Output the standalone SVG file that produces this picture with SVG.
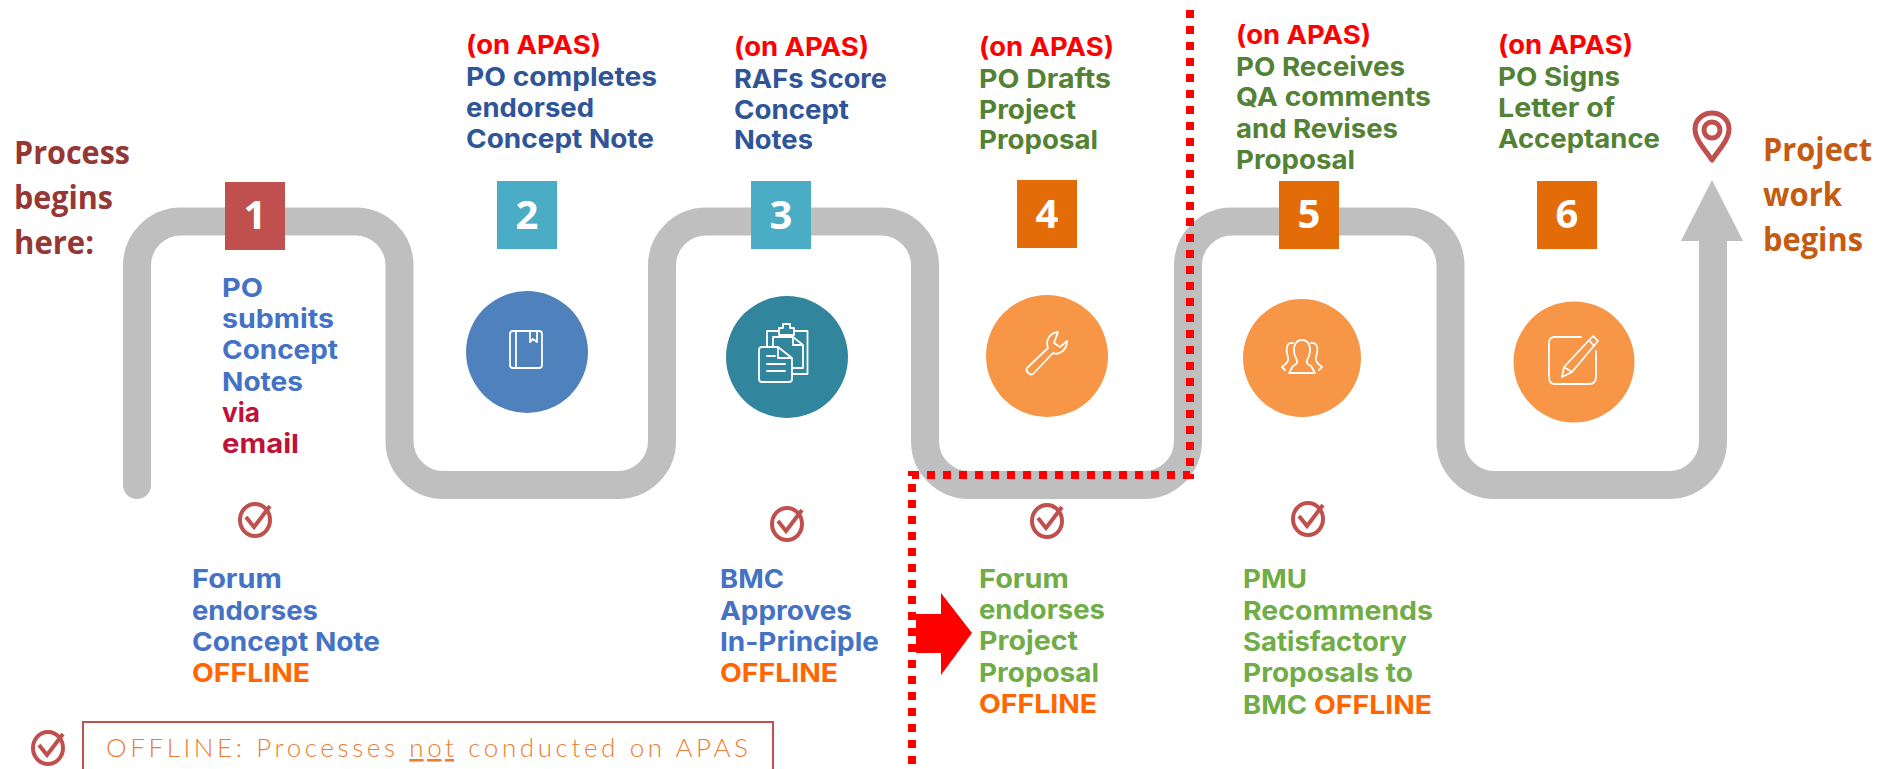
<svg xmlns="http://www.w3.org/2000/svg" width="1881" height="769" viewBox="0 0 1881 769">
<style>
text{font-family:Inter,"Liberation Sans",sans-serif;font-weight:700;font-size:26px}
.cal{font-family:"Open Sans","Liberation Sans",sans-serif;font-size:33px}
.num{font-family:"Open Sans","Liberation Sans",sans-serif;font-size:40px;fill:#fff;text-anchor:middle}
.red{fill:#f00}.navy{fill:#2f5597}.blue{fill:#4472c4}.dk{fill:#548235}.lt{fill:#70ad47}.off{fill:#f60}.via{fill:#be1238}
.ic{fill:none;stroke:#fff;stroke-width:1.8;stroke-linejoin:round;stroke-linecap:round}
.ck{fill:none;stroke:#c0504d;stroke-width:4}
.dot{fill:none;stroke:#f00;stroke-width:8;stroke-dasharray:8 8}
</style>
<defs>
<g id="check"><ellipse cx="0" cy="0" rx="15" ry="16" class="ck"/><path d="M-9-3L-1 7L15-14" class="ck"/></g>
</defs>
<rect width="1881" height="769" fill="#fff"/>
<g id="connectors">
<path id="track" d="M137 485V265.5A44 44 0 0 1 181 221.5H355.500A44 44 0 0 1 399.500 265.500V441A44 44 0 0 0 443.500 485H618A44 44 0 0 0 662 441V265.500A44 44 0 0 1 706 221.500H881A44 44 0 0 1 925 265.500V441A44 44 0 0 0 969 485H1144A44 44 0 0 0 1188 441V265.500A44 44 0 0 1 1232 221.500H1406.500A44 44 0 0 1 1450.500 265.500V441A44 44 0 0 0 1494.500 485H1669A44 44 0 0 0 1713 441V235" fill="none" stroke="#bfbfbf" stroke-width="28" stroke-linecap="round"/>
<polygon points="1712,180 1743,241 1681,241" fill="#bfbfbf"/>
<path class="dot" d="M1190 10V475H912V766"/>
<polygon id="red-arrow" points="916,614 941,614 941,593 972,633 941,675 941,653 916,653" fill="#f00"/>
</g>
<g id="start-label" fill="#953735">
<text class="cal" x="14" y="164" textLength="116" lengthAdjust="spacingAndGlyphs">Process</text>
<text class="cal" x="14" y="209" textLength="99" lengthAdjust="spacingAndGlyphs">begins</text>
<text class="cal" x="14" y="254" textLength="80" lengthAdjust="spacingAndGlyphs">here:</text>
</g>
<g id="end-label" fill="#c55a11">
<text class="cal" x="1763" y="161" textLength="109" lengthAdjust="spacingAndGlyphs">Project</text>
<text class="cal" x="1763" y="206" textLength="79" lengthAdjust="spacingAndGlyphs">work</text>
<text class="cal" x="1763" y="251" textLength="100" lengthAdjust="spacingAndGlyphs">begins</text>
</g>
<g id="pin">
<path d="M1712 160C1703 147 1695 139 1695 129A17 16 0 0 1 1729 129C1729 139 1721 147 1712 160Z" fill="none" stroke="#c0504d" stroke-width="5" stroke-linejoin="round"/>
<circle cx="1712" cy="130" r="8" fill="none" stroke="#c0504d" stroke-width="5"/>
</g>
<g id="step1">
<rect x="225" y="182" width="60" height="68" fill="#c0504d"/>
<text class="num" x="255" y="229">1</text>
<text class="blue" x="222" y="297" textLength="41" lengthAdjust="spacingAndGlyphs">PO</text>
<text class="blue" x="222" y="328" textLength="112" lengthAdjust="spacingAndGlyphs">submits</text>
<text class="blue" x="222" y="359" textLength="116" lengthAdjust="spacingAndGlyphs">Concept</text>
<text class="blue" x="222" y="391" textLength="81" lengthAdjust="spacingAndGlyphs">Notes</text>
<text class="via" x="222" y="422" textLength="38" lengthAdjust="spacingAndGlyphs">via</text>
<text class="via" x="222" y="453" textLength="77" lengthAdjust="spacingAndGlyphs">email</text>
</g>
<g id="step1-offline">
<use href="#check" x="255" y="520"/>
<text class="blue" x="192" y="588" textLength="90" lengthAdjust="spacingAndGlyphs">Forum</text>
<text class="blue" x="192" y="620" textLength="126" lengthAdjust="spacingAndGlyphs">endorses</text>
<text class="blue" x="192" y="651" textLength="188" lengthAdjust="spacingAndGlyphs">Concept Note</text>
<text class="off" x="192" y="682" textLength="118" lengthAdjust="spacingAndGlyphs">OFFLINE</text>
</g>
<g id="step2">
<text class="red" x="466" y="54" textLength="135" lengthAdjust="spacingAndGlyphs">(on APAS)</text>
<text class="navy" x="466" y="86" textLength="191" lengthAdjust="spacingAndGlyphs">PO completes</text>
<text class="navy" x="466" y="117" textLength="128" lengthAdjust="spacingAndGlyphs">endorsed</text>
<text class="navy" x="466" y="148" textLength="188" lengthAdjust="spacingAndGlyphs">Concept Note</text>
<rect x="497" y="181" width="60" height="68" fill="#4bacc6"/>
<text class="num" x="527" y="229">2</text>
<circle cx="527" cy="352" r="61" fill="#4f81bd"/>
<path class="ic" d="M513 331H539Q542 331 542 334V365Q542 368 539 368H513Q510 368 510 365V334Q510 331 513 331ZM516 331V368M530 331V342L533 339L537 342V331"/>
</g>
<g id="step3">
<text class="red" x="734" y="56" textLength="135" lengthAdjust="spacingAndGlyphs">(on APAS)</text>
<text class="navy" x="734" y="88" textLength="153" lengthAdjust="spacingAndGlyphs">RAFs Score</text>
<text class="navy" x="734" y="119" textLength="115" lengthAdjust="spacingAndGlyphs">Concept</text>
<text class="navy" x="734" y="149" textLength="79" lengthAdjust="spacingAndGlyphs">Notes</text>
<rect x="751" y="181" width="60" height="68" fill="#4bacc6"/>
<text class="num" x="781" y="229">3</text>
<circle cx="787" cy="357" r="61" fill="#31859c"/>
<path class="ic" d="M779 331H767V347M794 331H807.500V374H792M779 335V328H783V324H790V328H794V335ZM773 347V337H793L803 345V368H792M793 337V345H803"/>
<path class="ic" d="M762 347H778L792 358V379Q792 382 789 382H762Q759 382 759 379V350Q759 347 762 347ZM778 347V358H792M767 356H775M767 364H785M767 371H785"/>
</g>
<g id="step3-offline">
<use href="#check" x="787" y="524"/>
<text class="blue" x="720" y="588" textLength="64" lengthAdjust="spacingAndGlyphs">BMC</text>
<text class="blue" x="720" y="620" textLength="132" lengthAdjust="spacingAndGlyphs">Approves</text>
<text class="blue" x="720" y="651" textLength="159" lengthAdjust="spacingAndGlyphs">In-Principle</text>
<text class="off" x="720" y="682" textLength="118" lengthAdjust="spacingAndGlyphs">OFFLINE</text>
</g>
<g id="step4">
<text class="red" x="979" y="56" textLength="135" lengthAdjust="spacingAndGlyphs">(on APAS)</text>
<text class="dk" x="979" y="88" textLength="132" lengthAdjust="spacingAndGlyphs">PO Drafts</text>
<text class="dk" x="979" y="119" textLength="97" lengthAdjust="spacingAndGlyphs">Project</text>
<text class="dk" x="979" y="149" textLength="119" lengthAdjust="spacingAndGlyphs">Proposal</text>
<rect x="1017" y="180" width="60" height="68" fill="#e36c09"/>
<text class="num" x="1047" y="228">4</text>
<circle cx="1047" cy="356" r="61" fill="#f79646"/>
<path class="ic" d="M1058 332C1050 333 1045 340 1048 348L1027 368C1025 371 1030 376 1033 374L1053 353C1060 356 1067 349 1067 341L1060 347L1054 343L1058 332Z"/>
</g>
<g id="step4-offline">
<use href="#check" x="1047" y="521"/>
<text class="lt" x="979" y="588" textLength="90" lengthAdjust="spacingAndGlyphs">Forum</text>
<text class="lt" x="979" y="619" textLength="126" lengthAdjust="spacingAndGlyphs">endorses</text>
<text class="lt" x="979" y="650" textLength="99" lengthAdjust="spacingAndGlyphs">Project</text>
<text class="lt" x="979" y="682" textLength="120" lengthAdjust="spacingAndGlyphs">Proposal</text>
<text class="off" x="979" y="713" textLength="118" lengthAdjust="spacingAndGlyphs">OFFLINE</text>
</g>
<g id="step5">
<text class="red" x="1236" y="44" textLength="135" lengthAdjust="spacingAndGlyphs">(on APAS)</text>
<text class="dk" x="1236" y="76" textLength="169" lengthAdjust="spacingAndGlyphs">PO Receives</text>
<text class="dk" x="1236" y="106" textLength="195" lengthAdjust="spacingAndGlyphs">QA comments</text>
<text class="dk" x="1236" y="138" textLength="162" lengthAdjust="spacingAndGlyphs">and Revises</text>
<text class="dk" x="1236" y="169" textLength="119" lengthAdjust="spacingAndGlyphs">Proposal</text>
<rect x="1279" y="181" width="60" height="68" fill="#e36c09"/>
<text class="num" x="1309" y="228">5</text>
<circle cx="1302" cy="358" r="59" fill="#f79646"/>
<path class="ic" d="M1289 373L1293 366C1298 364 1298 362 1296 358C1292 350 1294 340 1302 340C1310 340 1312 350 1308 358C1306 362 1306 364 1311 366L1315 373ZM1293 343C1285 342 1286 352 1288 357C1289 361 1287 363 1282 367L1285 370M1311 343C1319 342 1318 352 1316 357C1315 361 1317 363 1322 367L1319 370"/>
</g>
<g id="step5-offline">
<use href="#check" x="1308" y="519"/>
<text class="lt" x="1243" y="588" textLength="64" lengthAdjust="spacingAndGlyphs">PMU</text>
<text class="lt" x="1243" y="620" textLength="190" lengthAdjust="spacingAndGlyphs">Recommends</text>
<text class="lt" x="1243" y="651" textLength="164" lengthAdjust="spacingAndGlyphs">Satisfactory</text>
<text class="lt" x="1243" y="682" textLength="170" lengthAdjust="spacingAndGlyphs">Proposals to</text>
<text class="lt" x="1243" y="714" textLength="64" lengthAdjust="spacingAndGlyphs">BMC</text>
<text class="off" x="1314" y="714" textLength="118" lengthAdjust="spacingAndGlyphs">OFFLINE</text>
</g>
<g id="step6">
<text class="red" x="1498" y="54" textLength="135" lengthAdjust="spacingAndGlyphs">(on APAS)</text>
<text class="dk" x="1498" y="86" textLength="122" lengthAdjust="spacingAndGlyphs">PO Signs</text>
<text class="dk" x="1498" y="117" textLength="117" lengthAdjust="spacingAndGlyphs">Letter of</text>
<text class="dk" x="1498" y="148" textLength="162" lengthAdjust="spacingAndGlyphs">Acceptance</text>
<rect x="1537" y="181" width="60" height="68" fill="#e36c09"/>
<text class="num" x="1567" y="228">6</text>
<circle cx="1574" cy="362" r="60.500" fill="#f79646"/>
<path class="ic" d="M1581 337H1555Q1549 337 1549 343V377Q1549 384 1555 384H1589Q1596 384 1596 377V351M1593 336L1598 341L1572 372L1562 377L1564 367ZM1589 340L1594 346M1564 367L1572 372"/>
</g>
<g id="legend">
<use href="#check" x="48" y="748"/>
<rect x="83" y="722" width="690" height="60" fill="none" stroke="#c0504d" stroke-width="2"/>
<text x="106" y="757" style="font-family:Lato,'Liberation Sans',sans-serif;font-weight:300;font-size:26px" fill="#ed7d31" textLength="642">OFFLINE: Processes <tspan text-decoration="underline">not</tspan> conducted on APAS</text>
</g>
</svg>
